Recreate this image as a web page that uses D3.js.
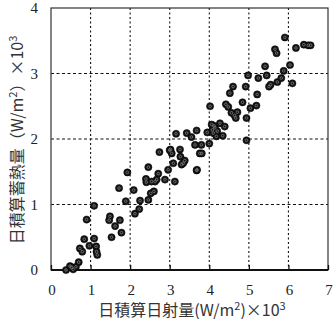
<!DOCTYPE html>
<html>
<head>
<meta charset="utf-8">
<script src="https://cdn.jsdelivr.net/npm/d3@7"></script>
<style>
  body { margin: 0; background: #fff; }
  svg { display: block; }
  .tick-label { font-family: "Liberation Serif", "DejaVu Serif", serif; font-size: 15px; fill: #222; }
  .title { font-family: "Noto Sans CJK JP", "Liberation Serif", serif; font-size: 16px; fill: #333; }
</style>
</head>
<body>
<svg width="334" height="322"></svg>
<script>
// daily integrated solar radiation (x) vs daily integrated stored heat (y), both x10^3 W/m2
let radiation = [0.38,0.48,0.56,0.63,0.70,0.52,0.73,0.79,0.84,0.90,0.97,1.09,1.09,1.14,1.17,
  1.49,1.47,1.62,1.74,1.53,1.78,1.72,1.89,1.93,2.09,2.12,2.23,2.25,2.40,2.41,2.46,2.46,2.52,2.60,
  2.63,2.71,2.74,2.88,2.96,3.02,3.05,3.09,3.13,3.16,3.26,3.27,3.30,3.38,3.43,3.55,3.64,3.68,3.68,
  3.76,3.80,4.00,4.02,3.95,4.06,4.10,4.14,4.18,4.27,4.34,4.39,4.42,4.48,4.52,4.60,4.56,4.67,4.71,
  4.84,4.92,4.94,4.94,4.98,5.04,5.19,5.21,5.24,5.41,5.45,5.51,5.55,5.66,5.70,5.72,5.82,5.88,5.91,
  6.04,6.10,6.19,6.39,6.50,6.56,2.67,3.00,3.34,3.81,4.08,4.20,4.12,1.15,2.54,3.69,4.64];
let storedHeat = [0.00,0.06,0.01,0.05,0.12,0.04,0.33,0.28,0.47,0.77,0.37,0.48,0.98,0.36,0.23,
  0.82,0.76,0.67,0.76,0.50,0.57,1.25,1.05,1.49,1.22,0.86,0.93,1.06,1.39,1.34,1.57,1.07,1.17,1.20,
  1.35,1.47,1.80,1.38,1.53,1.84,1.78,1.63,1.35,2.08,1.84,1.73,1.61,1.67,2.09,2.03,1.91,1.52,2.13,
  1.78,1.91,1.93,2.50,2.10,2.22,2.09,2.17,2.04,2.24,2.05,2.19,2.53,2.49,2.70,2.80,2.40,2.32,2.41,
  2.56,2.80,2.32,1.98,2.97,2.47,2.51,2.68,2.93,3.11,2.97,2.80,2.83,3.37,3.31,2.87,2.93,3.04,3.55,
  3.13,2.85,3.39,3.44,3.43,3.43,1.38,1.83,1.63,1.78,2.14,2.12,2.20,0.28,1.35,1.53,2.36];
let xTicks = [0,1,2,3,4,5,6,7];
let yTicks = [0,1,2,3,4];

let svg = d3.select('svg');
let margin = {top: 8, right: 6, bottom: 52, left: 51};
let x = d3.scaleLinear().domain([0,7]).range([margin.left, 334 - margin.right]);
let y = d3.scaleLinear().domain([0,4]).range([322 - margin.bottom, margin.top]);

// grid
svg.append('g')
  .selectAll('line')
  .data(xTicks.slice(1, -1))
  .enter().append('line')
  .attr('x1', d => x(d)).attr('x2', d => x(d))
  .attr('y1', y(4)).attr('y2', y(0))
  .attr('stroke', '#111').attr('stroke-width', 1.1).attr('stroke-dasharray', '2,2.5');
svg.append('g')
  .selectAll('line')
  .data(yTicks.slice(1, -1))
  .enter().append('line')
  .attr('y1', d => y(d)).attr('y2', d => y(d))
  .attr('x1', x(0)).attr('x2', x(7))
  .attr('stroke', '#111').attr('stroke-width', 1.1).attr('stroke-dasharray', '3,2.5');

// frame
svg.append('rect')
  .attr('x', x(0)).attr('y', y(4))
  .attr('width', x(7) - x(0)).attr('height', y(0) - y(4))
  .attr('fill', 'none').attr('stroke', '#333').attr('stroke-width', 1.2);
svg.append('line')
  .attr('x1', x(0)).attr('x2', x(7)).attr('y1', y(0)).attr('y2', y(0))
  .attr('stroke', '#111').attr('stroke-width', 2);

// ticks on bottom, pointing inward
svg.append('g')
  .attr('transform', `translate(0,${y(0)})`)
  .call(d3.axisBottom(x).tickValues(xTicks).tickSize(-5).tickFormat(''))
  .call(g => g.select('.domain').remove())
  .call(g => g.selectAll('line').attr('stroke', '#111').attr('stroke-width', 1.3));

// tick labels
svg.append('g')
  .selectAll('text')
  .data(xTicks)
  .enter().append('text')
  .attr('class', 'tick-label')
  .attr('x', d => x(d) + 1).attr('y', 295)
  .attr('text-anchor', 'middle')
  .text(d => d);
svg.append('g')
  .selectAll('text')
  .data(yTicks)
  .enter().append('text')
  .attr('class', 'tick-label')
  .attr('x', 38).attr('y', d => y(d) + 5)
  .attr('text-anchor', 'end')
  .text(d => d);

// points
let pts = radiation.map((d, i) => ({x: d, y: storedHeat[i]}));
let dots = svg.append('g');
dots.selectAll('circle.dot')
  .data(pts)
  .enter().append('circle')
  .attr('class', 'dot')
  .attr('cx', d => x(d.x)).attr('cy', d => y(d.y))
  .attr('r', 3.6)
  .attr('fill', '#141414')
  .attr('stroke', '#000').attr('stroke-width', 0.5);
dots.selectAll('circle.hl')
  .data(pts)
  .enter().append('circle')
  .attr('class', 'hl')
  .attr('cx', d => x(d.x)).attr('cy', d => y(d.y))
  .attr('r', 1.3)
  .attr('fill', 'none')
  .attr('stroke', '#8a8a8a').attr('stroke-width', 0.7);

// x title
let xt = svg.append('text')
  .attr('class', 'title')
  .attr('x', 192).attr('y', 316)
  .attr('text-anchor', 'middle');
xt.append('tspan').text('日積算日射量(W/m');
xt.append('tspan').attr('dy', -6).attr('font-size', 11).text('2');
xt.append('tspan').attr('dy', 6).text(')×10');
xt.append('tspan').attr('dy', -6).attr('font-size', 11).text('3');

// y title
let yt = svg.append('text')
  .attr('class', 'title')
  .attr('transform', 'translate(23,140) rotate(-90)')
  .attr('text-anchor', 'middle');
yt.append('tspan').text('日積算蓄熱量（W/m');
yt.append('tspan').attr('dy', -6).attr('font-size', 11).text('2');
yt.append('tspan').attr('dy', 6).text('）×10');
yt.append('tspan').attr('dy', -6).attr('font-size', 11).text('3');
</script>
</body>
</html>
